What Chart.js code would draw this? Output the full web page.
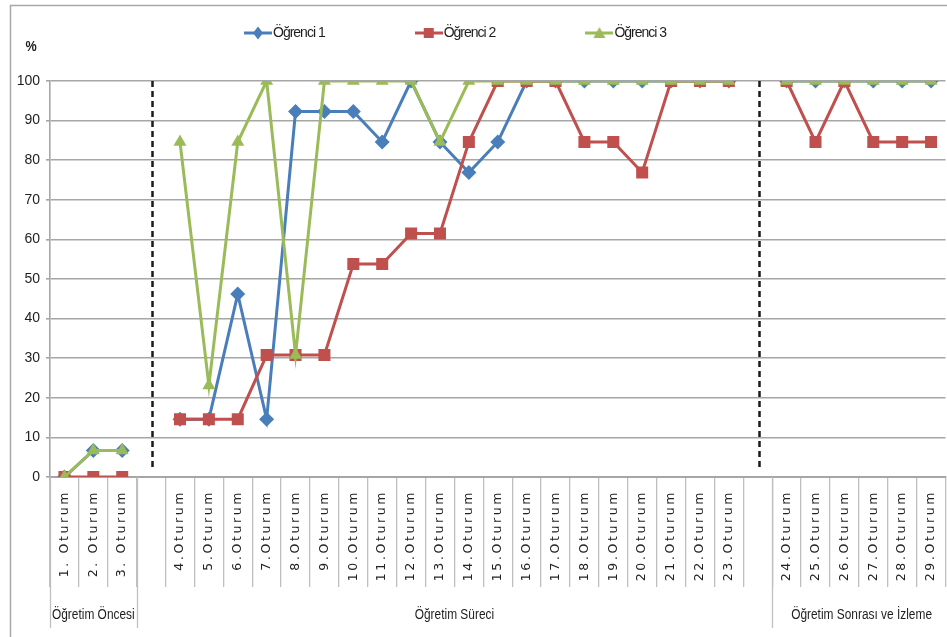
<!DOCTYPE html>
<html><head><meta charset="utf-8">
<script src="https://cdn.jsdelivr.net/npm/chart.js@4.4.1/dist/chart.umd.min.js"></script>
<style>
html,body{margin:0;padding:0;background:#fff;overflow:hidden;width:947px;height:637px}
#wrap{position:relative;width:954px;height:637px}
canvas{display:block}
</style>
</head><body><div id="wrap"><canvas id="c" width="954" height="637"></canvas></div>
<script>
const categories = ['1. Oturum','2. Oturum','3. Oturum','',
  '4.Oturum','5.Oturum','6.Oturum','7.Oturum','8.Oturum','9.Oturum','10.Oturum','11.Oturum','12.Oturum','13.Oturum',
  '14.Oturum','15.Oturum','16.Oturum','17.Oturum','18.Oturum','19.Oturum','20.Oturum','21.Oturum','22.Oturum','23.Oturum','',
  '24.Oturum','25.Oturum','26.Oturum','27.Oturum','28.Oturum','29.Oturum'];
const ogrenci1 = [0,6.7,6.7,null,
  14.6,14.6,46.2,14.6,92.3,92.3,92.3,84.6,100,84.6,76.9,84.6,100,100,100,100,100,100,100,100,null,
  100,100,100,100,100,100];
const ogrenci2 = [0,0,0,null,
  14.6,14.6,14.6,30.8,30.8,30.8,53.8,53.8,61.5,61.5,84.6,100,100,100,84.6,84.6,76.9,100,100,100,null,
  100,84.6,100,84.6,84.6,84.6];
const ogrenci3 = [0,6.7,6.7,null,
  84.6,23.1,84.6,100,30.8,100,100,100,100,84.6,100,100,100,100,100,100,100,100,100,100,null,
  100,100,100,100,100,100];
const seriesNames = ['Öğrenci 1','Öğrenci 2','Öğrenci 3'];
const groupNames = ['Öğretim Öncesi','Öğretim Süreci','Öğretim Sonrası ve İzleme'];
const groupSpans = [3,22,6];
const yTicks = [0,10,20,30,40,50,60,70,80,90,100];

const colors = ['#4a7ebb','#c0504d','#9bbb59'];
const styles = ['rectRot','rect','triangle'];
const radii = [7.5,8.5,7.5];

function makeIcon(i){
  const cv = document.createElement('canvas');
  cv.width = 28; cv.height = 16;
  const c = cv.getContext('2d');
  c.strokeStyle = colors[i]; c.lineWidth = 3;
  c.beginPath(); c.moveTo(0,8); c.lineTo(28,8); c.stroke();
  c.fillStyle = colors[i];
  c.beginPath();
  if (i===0){ c.moveTo(14,1.5); c.lineTo(19,8); c.lineTo(14,14.5); c.lineTo(9,8); }
  else if (i===1){ c.rect(9,3,10,10); }
  else { c.moveTo(14,2); c.lineTo(20,13); c.lineTo(8,13); }
  c.closePath(); c.fill();
  return cv;
}
const icons = [makeIcon(0),makeIcon(1),makeIcon(2)];

const LEG_X = 250, LEG_Y = 33, AREA_TOP = 81;
const FONT = '"Liberation Sans", Arial, sans-serif';

const helperPlugin = {
  id: 'helper',
  afterInit(chart){
    const lg = chart.legend;
    if (lg && !lg._patched){
      const of = lg.fit;
      lg.fit = function(){ of.call(this); this.height = AREA_TOP; };
      const od = lg.draw;
      lg.draw = function(a){ const ctx = this.ctx; ctx.save(); ctx.letterSpacing = '-1px'; od.call(this,a); ctx.restore(); };
      lg._patched = true;
    }
  },
  afterLayout(chart){
    const lg = chart.legend;
    const P = lg.options.labels.padding;
    lg.left = LEG_X - P; lg.right = lg.left + 954;
    lg.top = LEG_Y - P - 7; lg.bottom = AREA_TOP;
    const xs = chart.scales.x;
    if (!xs._lsPatched){
      const orig = xs.drawLabels;
      xs.drawLabels = function(a){
        const ctx = this.ctx; ctx.save(); ctx.letterSpacing = '2.6px'; orig.call(this,a); ctx.restore();
      };
      xs._lsPatched = true;
    }
  },
  beforeDraw(chart){
    const ctx = chart.ctx;
    ctx.save();
    ctx.strokeStyle = '#a8a8a8'; ctx.lineWidth = 1.5;
    ctx.beginPath(); ctx.moveTo(10.5,637); ctx.lineTo(10.5,5.5); ctx.lineTo(954,5.5); ctx.stroke();
    ctx.restore();
  },
  afterDatasetsDraw(chart){
    const ctx = chart.ctx, xs = chart.scales.x, ys = chart.scales.y;
    ctx.save();
    ctx.strokeStyle = '#1a1a1a'; ctx.lineWidth = 2.5; ctx.setLineDash([6,4]);
    categories.forEach((c,i)=>{
      if (c === ''){
        const x = Math.round(xs.getPixelForValue(i)) + 1.5;
        ctx.beginPath(); ctx.moveTo(x, ys.getPixelForValue(100)); ctx.lineTo(x, ys.getPixelForValue(0) - 6); ctx.stroke();
      }
    });
    ctx.restore();
  },
  afterDraw(chart){
    const ctx = chart.ctx, xs = chart.scales.x, ys = chart.scales.y;
    const step = xs.getPixelForValue(1) - xs.getPixelForValue(0);
    const base = ys.getPixelForValue(0);
    ctx.save();
    ctx.strokeStyle = '#bfbfbf'; ctx.lineWidth = 1.3;
    let idx = 0;
    ctx.font = '14px ' + FONT;
    ctx.fillStyle = '#1e1e1e'; ctx.textAlign = 'center'; ctx.textBaseline = 'middle';
    groupSpans.forEach((n,g)=>{
      const x0 = xs.getPixelForValue(idx) - step/2;
      const x1 = xs.getPixelForValue(idx+n-1) + step/2;
      ctx.beginPath(); ctx.moveTo(Math.round(x0)+0.5, base); ctx.lineTo(Math.round(x0)+0.5, 628); ctx.stroke();
      const cx = g === 2 ? (x0 + 947) / 2 + 2 : (x0 + x1) / 2;
      ctx.save(); ctx.translate(cx, 615); ctx.scale(0.85, 1);
      ctx.fillText(groupNames[g], 0, 0);
      ctx.restore();
      idx += n;
    });
    ctx.font = 'bold 14px ' + FONT;
    ctx.save(); ctx.translate(31, 47); ctx.scale(0.9,1); ctx.fillText('%', 0, 0); ctx.restore();
    ctx.restore();
  }
};

new Chart(document.getElementById('c'), {
  type: 'line',
  data: {
    labels: categories,
    datasets: [ogrenci1, ogrenci2, ogrenci3].map((d,i)=>({
      label: seriesNames[i],
      data: d,
      borderColor: colors[i],
      backgroundColor: colors[i],
      pointBackgroundColor: colors[i],
      pointBorderColor: colors[i],
      pointBorderWidth: 0,
      borderWidth: 3,
      pointStyle: styles[i],
      pointRadius: radii[i],
      pointHoverRadius: radii[i],
      tension: 0,
      spanGaps: false,
      order: 3 - i
    }))
  },
  options: {
    responsive: false,
    animation: false,
    devicePixelRatio: 1,
    layout: { padding: { left: 0, right: 1, top: 0, bottom: 0 } },
    plugins: {
      tooltip: { enabled: false },
      title: { display: false },
      legend: {
        display: true,
        position: 'top',
        align: 'start',
        labels: {
          usePointStyle: true,
          pointStyleWidth: 16,
          padding: 96,
          color: '#1e1e1e',
          font: { family: FONT, size: 14 },
          generateLabels: (chart) => chart.data.datasets.map((ds,i)=>({
            text: ds.label, pointStyle: icons[i], fillStyle: colors[i], strokeStyle: colors[i],
            lineWidth: 0, hidden: false, datasetIndex: i, fontColor: '#1e1e1e'
          }))
        }
      }
    },
    scales: {
      x: {
        type: 'category',
        offset: true,
        afterFit(scale){ scale.height = 637 - 477; },
        grid: { display: true, drawOnChartArea: false, drawTicks: true, tickLength: 110, offset: true, color: '#bfbfbf', lineWidth: 1.3 },
        border: { display: true, color: '#a6a6a6', width: 2 },
        ticks: {
          autoSkip: false, minRotation: 90, maxRotation: 90, padding: -97,
          color: '#222',
          font: { family: '"DejaVu Sans", sans-serif', size: 12.5 }
        }
      },
      y: {
        min: 0, max: 100,
        afterFit(scale){ scale.width = 50; },
        afterBuildTicks(scale){ scale.ticks = yTicks.map(v=>({value:v})); },
        grid: { color: '#a6a6a6', lineWidth: 1.6, tickLength: 4, drawTicks: true },
        border: { display: true, color: '#a6a6a6', width: 1.6 },
        ticks: { padding: 6, color: '#1e1e1e', font: { family: FONT, size: 14 } }
      }
    }
  },
  plugins: [helperPlugin]
});
</script>
</body></html>
